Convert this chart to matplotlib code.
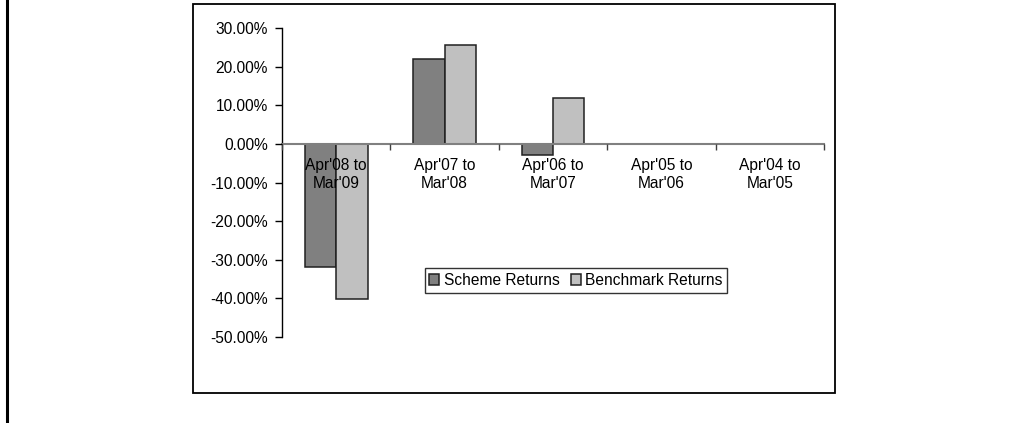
import matplotlib
matplotlib.use("Agg")
import matplotlib.pyplot as plt
from matplotlib.patches import Rectangle
from matplotlib.lines import Line2D
from matplotlib.ticker import FuncFormatter, FixedLocator
import numpy as np

plt.rcParams['font.family'] = ['Liberation Sans', 'DejaVu Sans']
plt.rcParams['axes.unicode_minus'] = False

categories = ["Apr'08 to\nMar'09", "Apr'07 to\nMar'08", "Apr'06 to\nMar'07",
              "Apr'05 to\nMar'06", "Apr'04 to\nMar'05"]
scheme_returns = [-31.8, 22.0, -3.0, 0.0, 0.0]
benchmark_returns = [-40.2, 25.5, 11.9, 0.0, 0.0]
series_names = ["Scheme Returns", "Benchmark Returns"]
series_colors = ["#808080", "#C0C0C0"]
yticks = [30, 20, 10, 0, -10, -20, -30, -40, -50]

W, H = 1021, 423
FS = 11.2
fig = plt.figure(figsize=(W / 100, H / 100), dpi=100)

# outer decorations
fig.add_artist(Line2D([7 / W, 7 / W], [0, 1], color='black', lw=2.2,
                      transform=fig.transFigure))
fig.add_artist(Rectangle((193 / W, 1 - 393 / H), (835 - 193) / W, (393 - 4) / H,
                         fill=False, edgecolor='black', lw=1.3,
                         transform=fig.transFigure))

ax = fig.add_axes([282 / W, 1 - 337 / H, (824 - 282) / W, (337 - 28) / H])
ax.set_facecolor('none')
ax.set_axisbelow(False)
x = np.arange(len(categories))
bw = 0.29
bars_s = ax.bar(x - bw / 2, scheme_returns, bw, color=series_colors[0],
                edgecolor='#202020', lw=1.1, label=series_names[0], zorder=2)
bars_b = ax.bar(x + bw / 2, benchmark_returns, bw, color=series_colors[1],
                edgecolor='#202020', lw=1.1, label=series_names[1], zorder=2)
for bars, vals in ((bars_s, scheme_returns), (bars_b, benchmark_returns)):
    for b, v in zip(bars, vals):
        if v == 0:
            b.set_visible(False)

ax.set_xlim(-0.5, len(categories) - 0.5)
ax.set_ylim(-50, 30)
ax.set_yticks(yticks)
ax.yaxis.set_major_formatter(FuncFormatter(lambda v, p: '%.2f%%' % v))
ax.tick_params(axis='y', direction='out', length=5, width=1, color='black',
               labelsize=FS, pad=5)

ax.spines['top'].set_visible(False)
ax.spines['right'].set_visible(False)
ax.spines['left'].set_color('black')
ax.spines['left'].set_linewidth(1.0)
ax.spines['bottom'].set_position(('data', 0))
ax.spines['bottom'].set_color('#808080')
ax.spines['bottom'].set_linewidth(1.5)

ax.xaxis.set_major_locator(FixedLocator(np.arange(len(categories) + 1) - 0.5))
ax.xaxis.set_minor_locator(FixedLocator(x))
ax.set_xticklabels([''] * (len(categories) + 1))
ax.set_xticklabels(categories, minor=True)
ax.tick_params(axis='x', which='major', direction='out', length=4, width=1,
               color='#404040')
ax.tick_params(axis='x', which='minor', length=0, pad=10, labelsize=FS)
for lbl in ax.get_xticklabels(minor=True):
    lbl.set_linespacing(1.3)

leg = fig.legend(handles=[bars_s, bars_b], labels=series_names, ncol=2,
                 loc='center', bbox_to_anchor=(576 / W, 1 - 280.5 / H),
                 fontsize=FS, frameon=True, fancybox=False, shadow=False,
                 handlelength=0.65, handleheight=0.65, handletextpad=0.3,
                 columnspacing=0.7, borderpad=0.3, borderaxespad=0)
leg.get_frame().set_edgecolor('black')
leg.get_frame().set_linewidth(1.0)

fig.savefig('out.png', dpi=100)
